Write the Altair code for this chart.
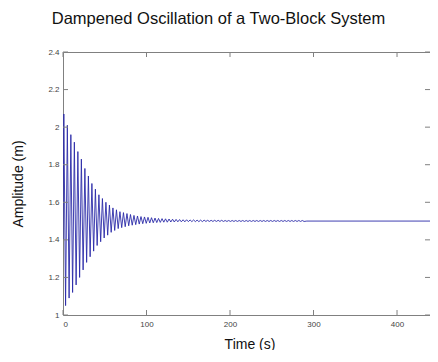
import altair as alt
import pandas as pd

# Upper peaks and lower troughs of each cycle (m)
peaks = [2.07, 2.01, 1.96, 1.92, 1.87, 1.83, 1.78, 1.74, 1.70, 1.67,
         1.64, 1.62, 1.60, 1.585, 1.57, 1.56, 1.55, 1.545, 1.54, 1.535,
         1.53, 1.527, 1.524, 1.522, 1.52, 1.518, 1.516, 1.514, 1.513, 1.512,
         1.511, 1.510, 1.509, 1.508, 1.507, 1.507, 1.506, 1.506, 1.505, 1.505,
         1.505, 1.504, 1.504, 1.504, 1.504, 1.504, 1.503, 1.503, 1.503, 1.503,
         1.503, 1.503, 1.503, 1.503, 1.503, 1.503, 1.503, 1.503, 1.503, 1.503,
         1.503, 1.503, 1.503, 1.503, 1.503, 1.503, 1.503, 1.503, 1.503]
troughs = [1.05, 1.09, 1.12, 1.16, 1.20, 1.24, 1.28, 1.31, 1.34, 1.37,
           1.39, 1.41, 1.425, 1.44, 1.45, 1.46, 1.465, 1.47, 1.475, 1.478,
           1.481, 1.484, 1.486, 1.488, 1.49, 1.491, 1.492, 1.493, 1.494, 1.494,
           1.495, 1.495, 1.496, 1.496, 1.496, 1.497, 1.497, 1.497, 1.497, 1.497,
           1.498, 1.498, 1.498, 1.498, 1.498, 1.498, 1.498, 1.498, 1.498, 1.498,
           1.498, 1.498, 1.498, 1.498, 1.498, 1.498, 1.498, 1.498, 1.498, 1.498,
           1.498, 1.498, 1.498, 1.498, 1.498, 1.498, 1.498, 1.498, 1.498]
first_peak_time = 1.0      # s
period = 4.2               # s
start_point = (0.0, 1.40)
end_points = [(292.0, 1.5), (447.0, 1.5)]

x_ticks = [0, 100, 200, 300, 400]
y_ticks = [1.0, 1.2, 1.4, 1.6, 1.8, 2.0, 2.2, 2.4]

rows = [start_point]
for i, (p, q) in enumerate(zip(peaks, troughs)):
    t = first_peak_time + i * period
    rows.append((t, p))
    rows.append((t + period / 2, q))
rows += end_points
df = pd.DataFrame(rows, columns=["t", "y"])
df["order"] = range(len(df))

W, H = 367, 263
xs = alt.Scale(domain=[0, 439.5], nice=False, zero=False)
ys = alt.Scale(domain=[1.0, 2.4], nice=False, zero=False)

x_axis = alt.Axis(values=x_ticks, tickSize=0, domain=False, grid=False,
                  labelOverlap=False, labelFontSize=8, labelColor="#444",
                  labelPadding=5, titleFontSize=14, titleFontWeight="normal",
                  titleColor="#111", titlePadding=9, titleX=W / 2 + 3)
y_axis = alt.Axis(values=y_ticks, tickSize=0, domain=False, grid=False,
                  labelOverlap=False, labelExpr="format(datum.value, '.1~f')",
                  labelFontSize=8, labelColor="#444", labelPadding=4,
                  titleFontSize=14, titleFontWeight="normal",
                  titleColor="#111", titlePadding=22)

line = alt.Chart(df).mark_line(color="#2a2aa8", strokeWidth=0.9, clip=True).encode(
    x=alt.X("t:Q", scale=xs, title="Time (s)", axis=x_axis),
    y=alt.Y("y:Q", scale=ys, title="Amplitude (m)", axis=y_axis),
    order="order:Q",
)

xt = pd.DataFrame({"v": x_ticks})
yt = pd.DataFrame({"v": y_ticks})
tick_color = "#808080"
xb = alt.Chart(xt).mark_rule(color=tick_color).encode(
    x=alt.X("v:Q", scale=xs, title="Time (s)", axis=x_axis),
    y=alt.value(H), y2=alt.value(H - 5))
xtop = alt.Chart(xt).mark_rule(color=tick_color).encode(
    x=alt.X("v:Q", scale=xs, title="Time (s)", axis=x_axis),
    y=alt.value(0), y2=alt.value(5))
yl = alt.Chart(yt).mark_rule(color=tick_color).encode(
    y=alt.Y("v:Q", scale=ys, title="Amplitude (m)", axis=y_axis),
    x=alt.value(0), x2=alt.value(5))
yr = alt.Chart(yt).mark_rule(color=tick_color).encode(
    y=alt.Y("v:Q", scale=ys, title="Amplitude (m)", axis=y_axis),
    x=alt.value(W), x2=alt.value(W - 5))

chart = alt.layer(line, xb, xtop, yl, yr).properties(
    width=W, height=H,
    title=alt.TitleParams("Dampened Oscillation of a Two-Block System",
                          fontSize=16.5, fontWeight="normal", color="#111",
                          anchor="middle", dx=-28, offset=21),
    autosize=alt.AutoSizeParams(type="none"),
    padding={"left": 55, "top": 44, "right": 0, "bottom": 35},
).configure(font="Liberation Sans").configure_axis(labelOverlap=False).configure_view(
    stroke="#808080", strokeWidth=1)

chart.save("out.html", embed_options={"renderer": "svg", "actions": False})
